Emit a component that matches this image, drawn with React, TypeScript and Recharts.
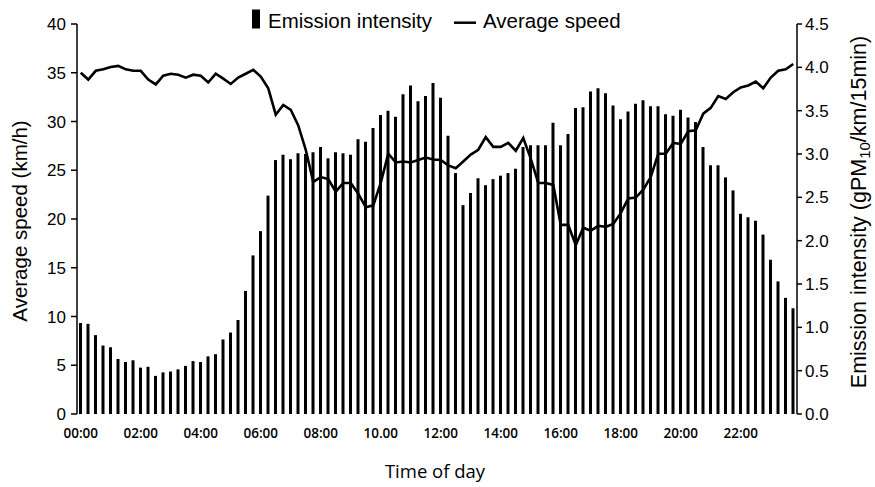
import React from "react";
import { ComposedChart, Bar, Line, XAxis, YAxis } from "recharts";

// 15-minute slots over the day; every 8th slot gets a printed label
const tickLabels = ["00:00", "02:00", "04:00", "06:00", "08:00", "10.00", "12:00", "14:00", "16:00", "18:00", "20:00", "22:00"];

// emission intensity, gPM10/km/15min (right axis)
const emission = [
    1.05, 1.04, 0.91, 0.79, 0.77, 0.635, 0.6, 0.62, 0.535, 0.545,
    0.44, 0.48, 0.49, 0.515, 0.555, 0.61, 0.6, 0.665, 0.69, 0.86,
    0.94, 1.085, 1.42, 1.83, 2.11, 2.52, 2.93, 2.99, 2.94, 3.01,
    3.0, 3.02, 3.08, 2.95, 3.02, 3.01, 2.99, 3.17, 3.14, 3.3,
    3.45, 3.5, 3.43, 3.69, 3.79, 3.61, 3.67, 3.82, 3.65, 3.21,
    2.78, 2.41, 2.55, 2.72, 2.64, 2.71, 2.75, 2.78, 2.83, 3.08,
    3.1, 3.1, 3.1, 3.36, 3.1, 3.23, 3.53, 3.54, 3.72, 3.76,
    3.7, 3.56, 3.4, 3.49, 3.58, 3.62, 3.55, 3.55, 3.46, 3.44,
    3.51, 3.42, 3.37, 3.08, 2.87, 2.87, 2.73, 2.58, 2.31, 2.27,
    2.23, 2.07, 1.78, 1.53, 1.34, 1.22,
];

// average speed, km/h (left axis)
const speed = [
    35.0, 34.3, 35.2, 35.35, 35.6, 35.7, 35.35, 35.2, 35.2, 34.3,
    33.8, 34.7, 34.9, 34.8, 34.5, 34.8, 34.7, 34.0, 34.9, 34.4,
    33.85, 34.5, 34.9, 35.3, 34.6, 33.4, 30.7, 31.7, 31.2, 29.6,
    27.1, 23.8, 24.3, 24.1, 22.8, 23.7, 23.7, 22.6, 21.2, 21.4,
    23.7, 26.7, 25.8, 25.9, 25.8, 26.05, 26.3, 26.1, 26.05, 25.5,
    25.2, 25.9, 26.6, 27.1, 28.4, 27.4, 27.4, 27.8, 27.0, 28.3,
    26.2, 23.7, 23.7, 23.5, 19.4, 19.4, 17.3, 19.1, 18.8, 19.3,
    19.2, 19.5, 20.6, 22.1, 22.2, 23.0, 24.3, 26.7, 26.7, 27.8,
    27.7, 29.0, 29.1, 30.8, 31.4, 32.6, 32.3, 33.0, 33.5, 33.7,
    34.1, 33.4, 34.5, 35.2, 35.35, 35.9,
];

const speedTicks = [0, 5, 10, 15, 20, 25, 30, 35, 40];
const emissionTicks = [0, 0.5, 1, 1.5, 2, 2.5, 3, 3.5, 4, 4.5];

const pad = (n: number) => String(n).padStart(2, "0");
const slotName = (i: number) =>
    i % 8 === 0 ? tickLabels[i / 8] : `${pad(Math.floor(i / 4))}:${pad((i % 4) * 15)}`;

const data = emission.map((e, i) => ({ slot: slotName(i), emission: e, speed: speed[i] }));

const SANS = "'Liberation Sans', Arial, sans-serif";
const HUMANIST = "'Open Sans', 'Noto Sans', sans-serif";

export default function App() {
    return (
        <div style={{ position: "absolute", left: 0, top: 0, width: 875, height: 487, background: "#fff" }}>
            <ComposedChart width={875} height={487} data={data} margin={{ top: 24, right: 0, bottom: 0, left: 0 }}>
                <XAxis
                    dataKey="slot"
                    interval={7}
                    height={73}
                    axisLine={false}
                    tickLine={false}
                    tickMargin={8}
                    tick={{ fontSize: 13.5, fontWeight: 600, fill: "#000", fontFamily: HUMANIST }}
                />
                <YAxis
                    yAxisId="left"
                    width={77}
                    domain={[0, 40]}
                    ticks={speedTicks}
                    axisLine={{ stroke: "#000", strokeWidth: 1.5 }}
                    tickLine={{ stroke: "#000", strokeWidth: 1.5 }}
                    tickSize={6}
                    tickMargin={5}
                    tick={{ fontSize: 17, fill: "#000", fontFamily: SANS }}
                />
                <YAxis
                    yAxisId="right"
                    orientation="right"
                    width={78}
                    domain={[0, 4.5]}
                    ticks={emissionTicks}
                    tickFormatter={(v: number) => v.toFixed(1)}
                    axisLine={{ stroke: "#000", strokeWidth: 1.5 }}
                    tickLine={{ stroke: "#000", strokeWidth: 1.5 }}
                    tickSize={5}
                    tickMargin={3}
                    tick={{ fontSize: 17, fill: "#000", fontFamily: SANS }}
                />
                <Bar yAxisId="right" dataKey="emission" fill="#000" barSize={3} isAnimationActive={false} />
                <Line
                    yAxisId="left"
                    type="linear"
                    dataKey="speed"
                    stroke="#000"
                    strokeWidth={2.6}
                    dot={false}
                    isAnimationActive={false}
                />
            </ComposedChart>

            {/* titles and legend */}
            <svg width={875} height={487} style={{ position: "absolute", left: 0, top: 0, pointerEvents: "none" }}>
                <rect x={252} y={9.5} width={8} height={19} fill="#000" />
                <text x={268} y={28.3} fontSize={20.5} fontFamily={SANS} fill="#000">Emission intensity</text>
                <line x1={454} x2={476} y1={22.7} y2={22.7} stroke="#000" strokeWidth={2.5} />
                <text x={483} y={28.3} fontSize={20.5} fontFamily={SANS} fill="#000">Average speed</text>

                <text transform="translate(27,221) rotate(-90)" textAnchor="middle" fontSize={20.5} fontFamily={SANS} fill="#000">
                    Average speed (km/h)
                </text>
                <text transform="translate(866,212) rotate(-90)" textAnchor="middle" fontSize={21.5} fontFamily={SANS} fill="#000">
                    Emission intensity (gPM<tspan dy={4} fontSize={15}>10</tspan>
                    <tspan dy={-4}>/km/15min)</tspan>
                </text>

                <text x={435} y={478} textAnchor="middle" fontSize={18.5} fontFamily={HUMANIST} fill="#000">Time of day</text>
            </svg>
        </div>
    );
}
